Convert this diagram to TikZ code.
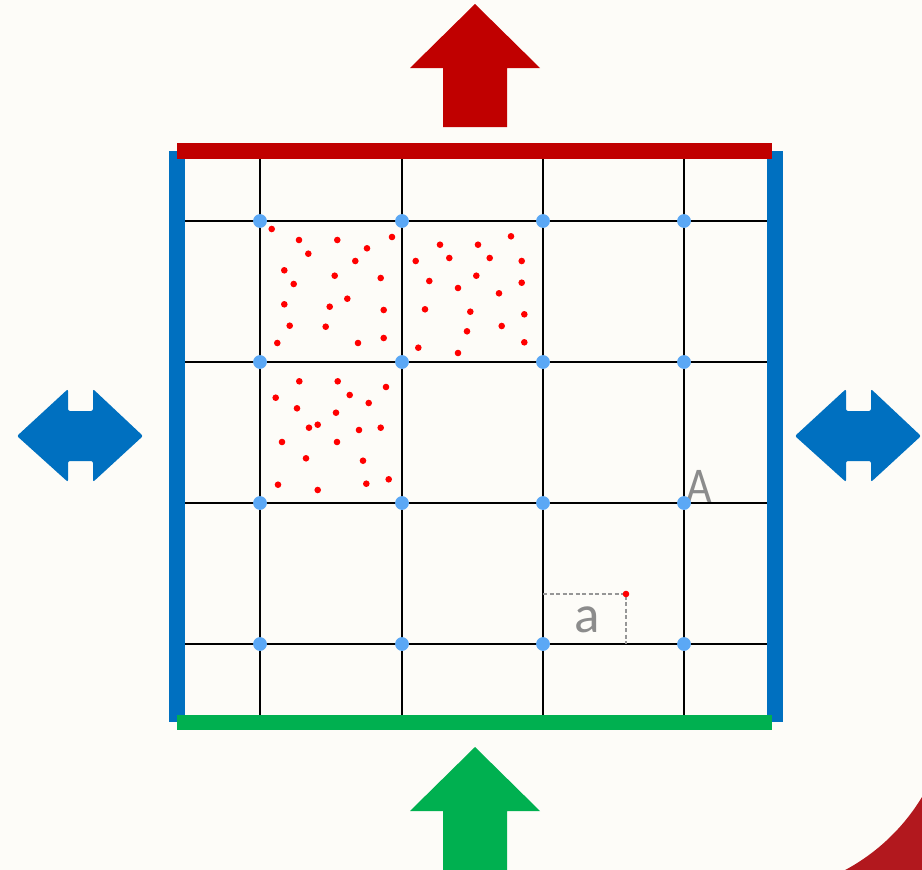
\documentclass[tikz,border=0pt]{standalone}
\usepackage{fontspec}
\newfontfamily\carl{Carlito}
\definecolor{bg}{RGB}{253,252,248}
\definecolor{barred}{RGB}{192,0,0}
\definecolor{barblue}{RGB}{0,112,192}
\definecolor{bargreen}{RGB}{0,176,80}
\definecolor{dotblue}{RGB}{91,168,245}
\definecolor{dotred}{RGB}{255,0,0}
\definecolor{txtgray}{RGB}{140,140,140}
\definecolor{dashgray}{RGB}{150,150,150}
\definecolor{cornerred}{RGB}{178,24,30}
\tikzset{
  gridline/.style={line width=2.2pt,black},
  bar/.style={line width=16pt},
  bdot/.style={fill=dotblue},
  rdot/.style={fill=dotred},
  arrowshape/.style={rounded corners=2pt},
  lbl/.style={text=txtgray,inner sep=0pt}
}
\begin{document}
\begin{tikzpicture}[x=1pt,y=-1pt]
\useasboundingbox (0,0) rectangle (922,870);
\fill[bg] (0,0) rectangle (922,870);
% corner decoration
\fill[cornerred] (750,693) ++(61.8:201) arc[start angle=61.8,end angle=31.2,radius=201] -- (922,870) -- cycle;
% grid lines
\foreach \x in {260,402,543,684} \draw[gridline] (\x,159) -- (\x,715);
\foreach \y in {221,362,503,644} \draw[gridline] (185,\y) -- (767,\y);
% frame bars
\draw[bar,barblue] (177,151) -- (177,722);
\draw[bar,barblue] (775,151) -- (775,722);
\draw[bar,barred] (177,151) -- (772,151);
\draw[bar,bargreen,line width=15pt] (177,722) -- (772,722);
% red dots
\foreach \p in {(271.7,229),(299,240),(337.3,240),(392,237),(308.3,253.7),(367,248.3),(355.3,261),(284.3,270.3),(334.7,275.7),(380.7,278),(293.7,284),(347.3,298.7),(284.3,304.3),(329.7,306.7),(383.7,310),(289.7,325.7),(325.7,326.7),(277.3,343),(358,343),(383.7,338),
(511,236.3),(440,244.7),(478,244.7),(415.7,261),(449.3,258),(489.7,258),(521.7,261),(476.3,275.7),(429.3,281),(458,288),(521.7,282.7),(499,293.3),(425,309.3),(470.3,311.7),(524.3,314.3),(501.7,326),(467,331.3),(418.3,347.7),(458,353),(524.3,342.3),
(299.3,381.3),(337.7,381.3),(386,387),(275.7,397.7),(349.7,395),(368.7,403),(297,408.3),(336,412.7),(309,427.7),(317.7,424.7),(359,430),(380.7,427.7),(282,442),(337,442),(306,458.3),(363,460.7),(278,484.7),(317.7,490),(366.3,483.7),(388.7,479.3)}
  \fill[rdot] \p circle[radius=3.3];
% label A
\node[lbl,anchor=base,font=\carl\fontsize{50}{50}\selectfont,xscale=0.88] (lA) at (699,502) {A};
% dashed measure a
\draw[dashgray,dashed,line width=1.5pt,dash pattern=on 4pt off 2.5pt] (543,594) -- (626,594) -- (626,644);
\node[lbl,anchor=base,font=\carl\fontsize{53}{53}\selectfont] (la) at (587,632) {a};
% blue dots
\foreach \x in {260,402,543,684}
  \foreach \y in {221,362,503,644}
    \fill[bdot] (\x,\y) circle[radius=6.9];
\fill[rdot] (626,594) circle[radius=3.3];
% arrows
\fill[barred] (475,4) -- (540,68) -- (507,68) -- (507,127) -- (443,127) -- (443,68) -- (410,68) -- cycle;
\fill[bargreen] (475,747) -- (540,811) -- (507,811) -- (507,870) -- (443,870) -- (443,811) -- (410,811) -- cycle;
\foreach \dx in {0,778}{
  \fill[barblue,arrowshape,xshift=\dx] (17,436) -- (68,389) -- (68,411) -- (93,411) -- (93,389) -- (143,436) -- (93,482) -- (93,461) -- (68,461) -- (68,482) -- cycle;
}
\end{tikzpicture}
\end{document}
